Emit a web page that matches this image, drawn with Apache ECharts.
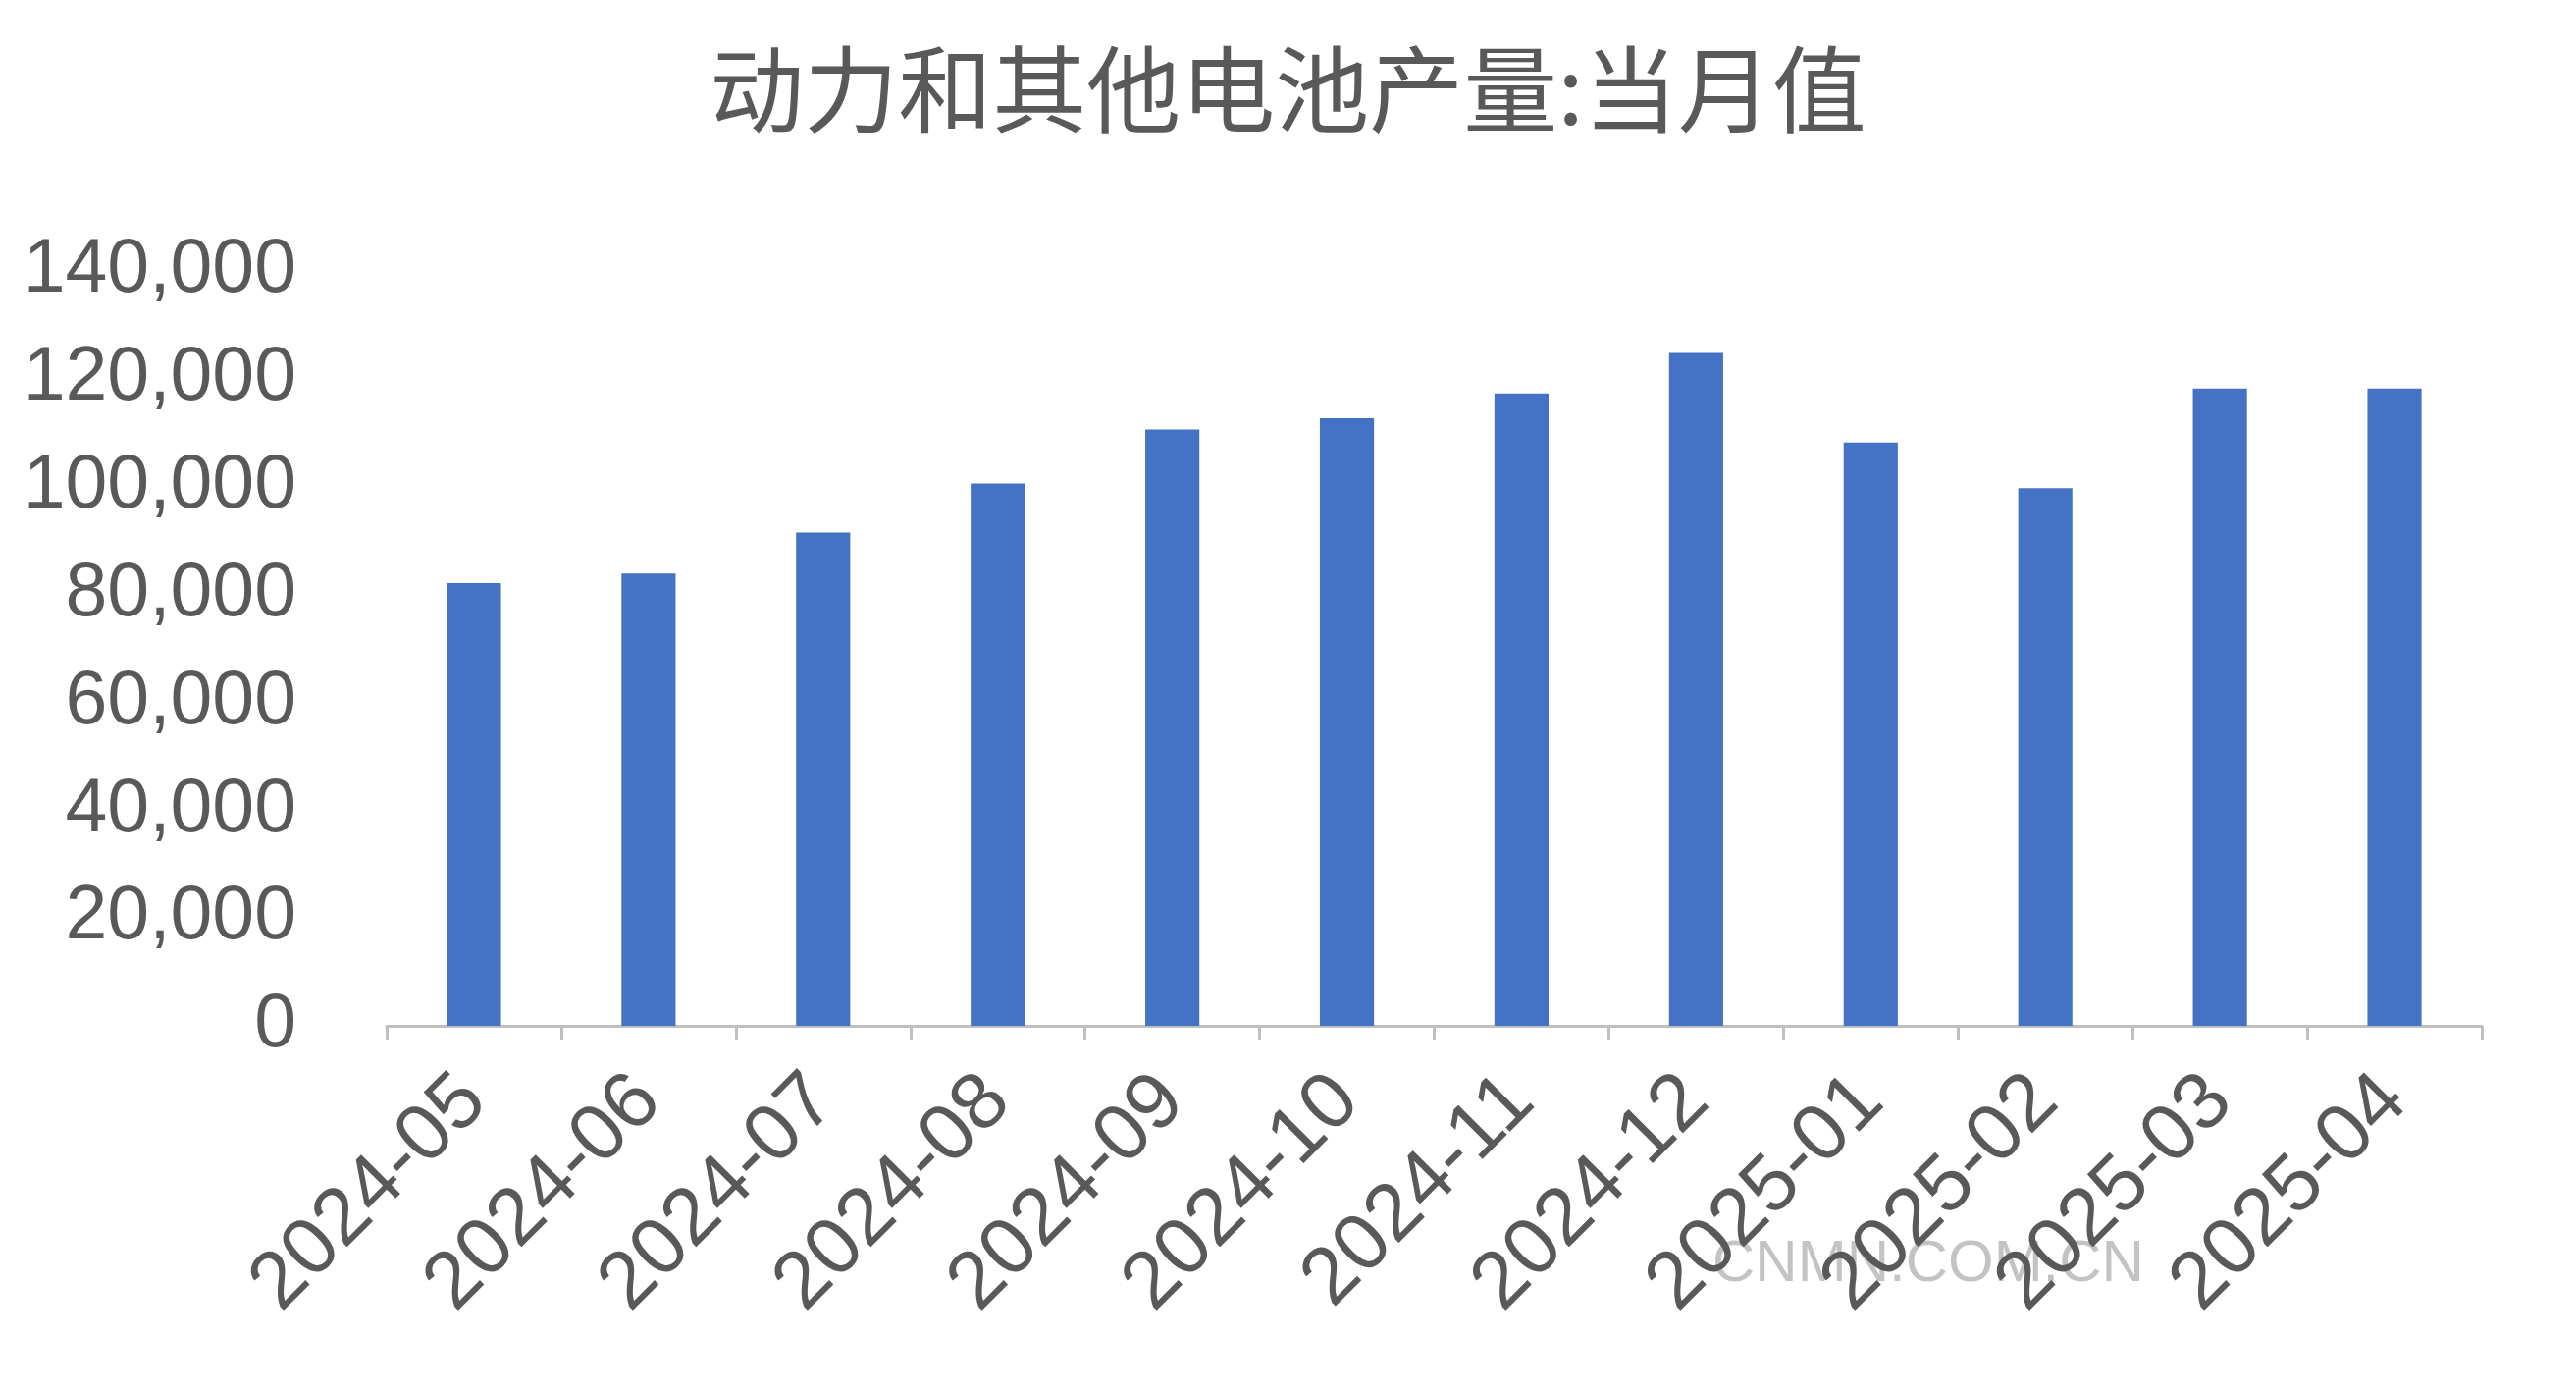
<!DOCTYPE html>
<html><head><meta charset="utf-8">
<script src="https://cdn.jsdelivr.net/npm/echarts@6/dist/echarts.min.js"></script>
<style>html,body{margin:0;padding:0;background:#fff}#c{width:2625px;height:1417px}</style>
</head><body><div id="c"></div>
<script>
const categories = ['2024-05','2024-06','2024-07','2024-08','2024-09','2024-10','2024-11','2024-12','2025-01','2025-02','2025-03','2025-04'];
const values = [82100,83900,91500,100600,110600,112700,117300,124800,108200,99700,118200,118200];
const chart = echarts.init(document.getElementById('c'));
chart.setOption({
  backgroundColor:'#fff',
  title:{text:'动力和其他电池产量:当月值',left:'center',top:38,textStyle:{fontFamily:'Noto Sans CJK SC',fontSize:96,fontWeight:'normal',color:'#595959'}},
  grid:{left:394,right:96,top:276,bottom:372},
  xAxis:{type:'category',data:categories,
    axisLine:{lineStyle:{color:'#BFBFBF',width:3}},
    axisTick:{show:true,length:14,lineStyle:{color:'#BFBFBF',width:3}},
    axisLabel:{rotate:45,fontSize:82,color:'#595959',fontFamily:'Liberation Sans',margin:64}},
  yAxis:{type:'value',min:0,max:140000,interval:20000,splitLine:{show:false},
    axisLabel:{fontSize:77,color:'#595959',fontFamily:'Liberation Sans',margin:92,
      formatter:v=>v.toLocaleString('en-US')}},
  series:[{type:'bar',data:values,barWidth:'31%',itemStyle:{color:'#4472C4'}}],
  graphic:[{type:'text',left:1745,top:1258,style:{text:'CNMN.COM.CN',fontSize:60,fontFamily:'Liberation Sans',fill:'rgba(170,170,170,0.7)'}}]
});
</script></body></html>
